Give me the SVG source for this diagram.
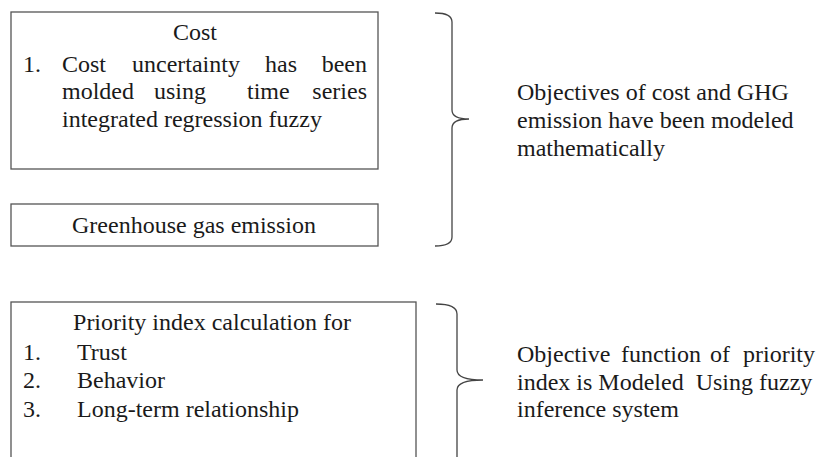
<svg xmlns="http://www.w3.org/2000/svg" width="821" height="457" viewBox="0 0 821 457" font-family="'Liberation Serif', Tinos, 'Times New Roman', 'DejaVu Serif', serif">
<style>
text{font-family:'Liberation Serif', Tinos, 'Times New Roman', 'DejaVu Serif', serif;font-size:24px;fill:#1a1a1a}
.box{fill:#fff;stroke:#555;stroke-width:1.3}
.brace{fill:none;stroke:#444;stroke-width:1.3}
</style>
<rect width="821" height="457" fill="#fff"/>
<g id="cost">
<rect class="box" x="11" y="12" width="367" height="157"/>
<text x="195" y="40" text-anchor="middle">Cost</text>
<text x="23" y="72">1.</text>
<text x="62" y="72">Cost</text><text x="132" y="72">uncertainty</text><text x="265" y="72">has</text><text x="367" y="72" text-anchor="end">been</text>
<text x="62" y="99">molded</text><text x="154" y="99">using</text><text x="247" y="99">time</text><text x="367" y="99" text-anchor="end">series</text>
<text x="62" y="127">integrated regression fuzzy</text>
</g>
<g id="ghg">
<rect class="box" x="11" y="204" width="367" height="42"/>
<text x="194" y="233" text-anchor="middle">Greenhouse gas emission</text>
</g>
<g id="priority">
<rect class="box" x="11" y="302" width="405" height="200"/>
<text x="212" y="330" text-anchor="middle">Priority index calculation for</text>
<text x="23" y="360">1.</text><text x="77" y="360">Trust</text>
<text x="23" y="388">2.</text><text x="77" y="388">Behavior</text>
<text x="23" y="417">3.</text><text x="77" y="417">Long-term relationship</text>
</g>
<g id="connectors">
<path class="brace" d="M435,13 Q452,13 452,22 L452,110 Q452,119 469,119 Q452,119 452,128 L452,237 Q452,246 435,246"/>
<path class="brace" d="M436,304 Q457,304 457,314 L457,370 Q457,380 483,380 Q457,380 457,390 L457,470"/>
</g>
<g id="objective1">
<text x="517" y="100">Objectives of cost and GHG</text>
<text x="517" y="128">emission have been modeled</text>
<text x="517" y="156">mathematically</text>
</g>
<g id="objective2">
<text x="517" y="362">Objective</text><text x="621" y="362">function</text><text x="710" y="362">of</text><text x="815" y="362" text-anchor="end">priority</text>
<text x="517" y="390" xml:space="preserve">index is Modeled  Using fuzzy</text>
<text x="517" y="417">inference system</text>
</g>
</svg>
